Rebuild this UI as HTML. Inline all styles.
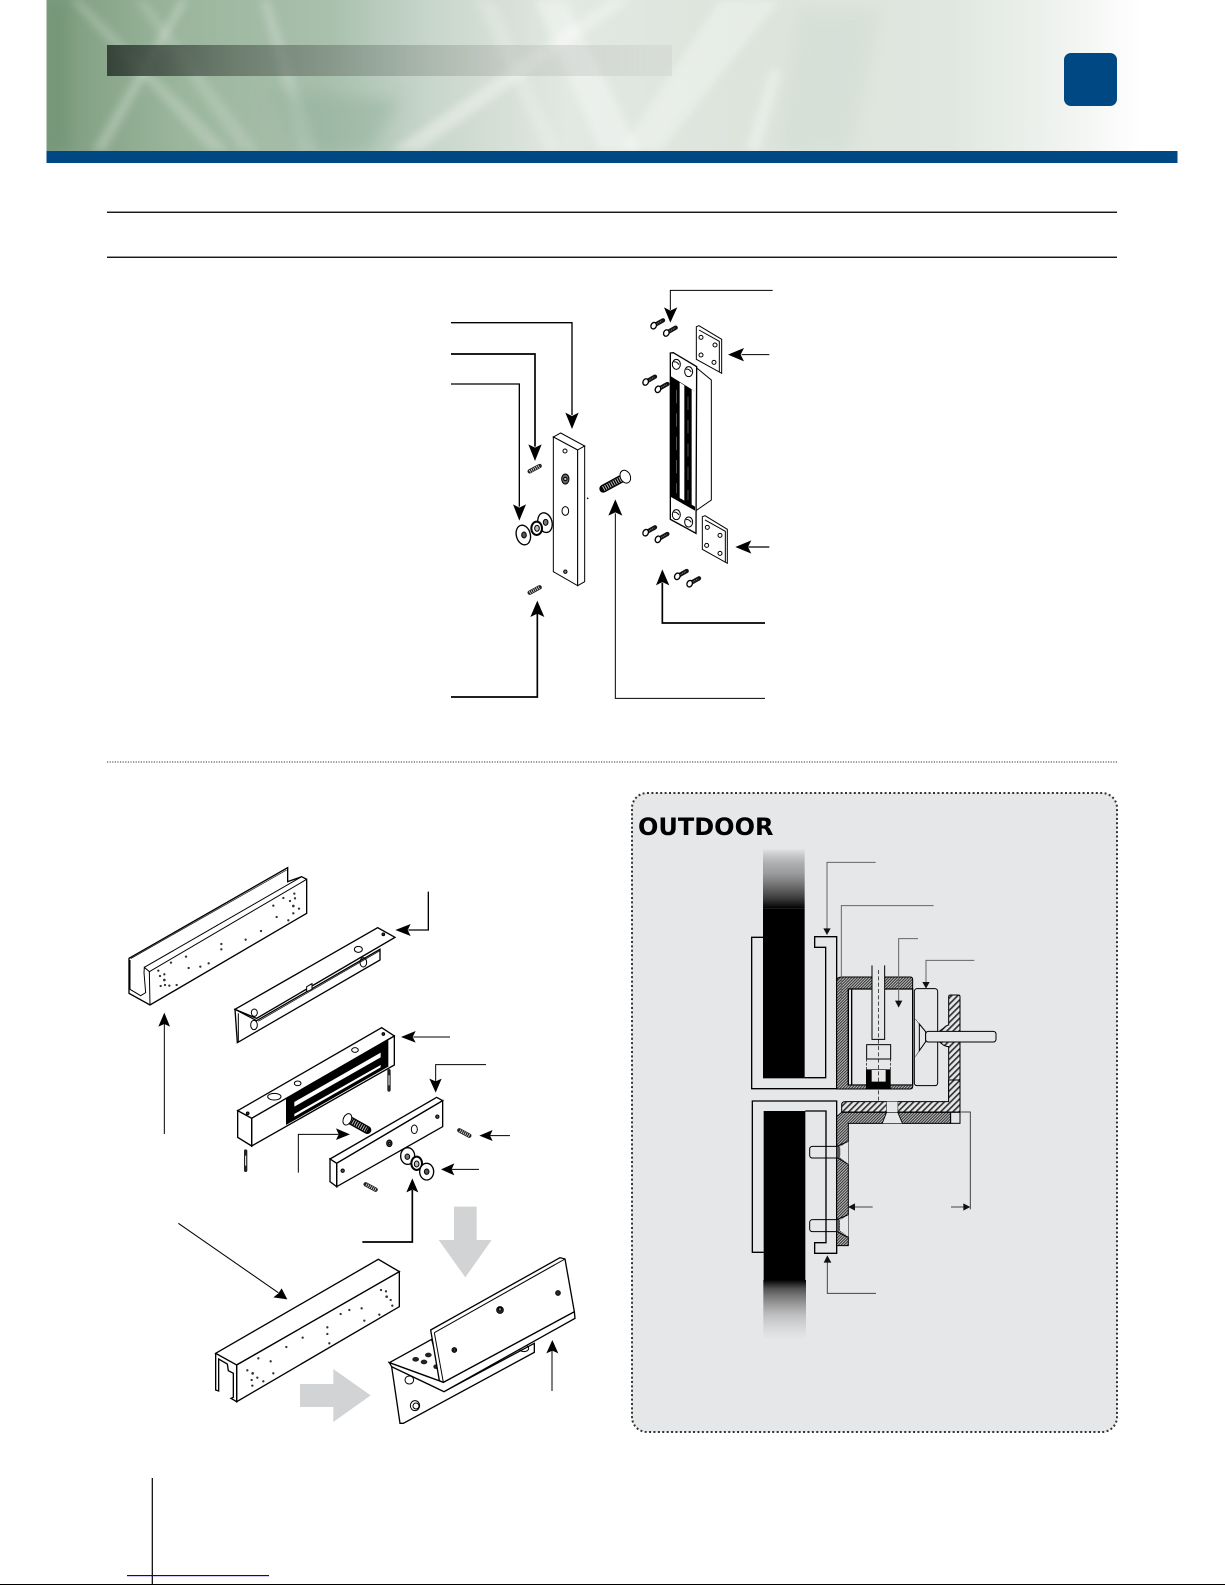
<!DOCTYPE html>
<html><head><meta charset="utf-8"><style>html,body{margin:0;padding:0;background:#fff}svg{display:block}</style></head><body>
<svg xmlns="http://www.w3.org/2000/svg" width="1225" height="1585" viewBox="0 0 1225 1585">
<defs>
<linearGradient id="bn" x1="0" x2="1" y1="0" y2="0">
<stop offset="0" stop-color="#7d9c7f"/><stop offset=".12" stop-color="#9bb69d"/><stop offset=".25" stop-color="#a9c0ad"/><stop offset=".34" stop-color="#c8d6cb"/><stop offset=".46" stop-color="#e2e8e2"/><stop offset=".62" stop-color="#dce4dc"/><stop offset=".8" stop-color="#e0e7e0"/><stop offset=".9" stop-color="#f0f3f0"/><stop offset=".97" stop-color="#fff"/>
</linearGradient>
<linearGradient id="bx" x1="0" x2="1" y1="0" y2="0">
<stop offset="0" stop-color="#2f3a31" stop-opacity=".92"/><stop offset=".2" stop-color="#4a564c" stop-opacity=".65"/><stop offset=".5" stop-color="#7e8a80" stop-opacity=".5"/><stop offset=".75" stop-color="#b5b8b4" stop-opacity=".4"/><stop offset="1" stop-color="#c8c8c6" stop-opacity=".3"/>
</linearGradient>
<linearGradient id="gt" x1="0" x2="0" y1="0" y2="1"><stop offset="0" stop-color="#000" stop-opacity="0"/><stop offset=".4" stop-color="#555" stop-opacity=".5"/><stop offset=".85" stop-color="#222" stop-opacity=".9"/><stop offset="1" stop-color="#000"/></linearGradient>
<linearGradient id="gb" x1="0" x2="0" y1="0" y2="1"><stop offset="0" stop-color="#000"/><stop offset=".15" stop-color="#444" stop-opacity=".9"/><stop offset=".6" stop-color="#888" stop-opacity=".4"/><stop offset="1" stop-color="#aaa" stop-opacity="0"/></linearGradient>
<filter id="bl" x="-20%" y="-20%" width="140%" height="140%"><feGaussianBlur stdDeviation="4"/></filter>
<filter id="bl2" x="-20%" y="-20%" width="140%" height="140%"><feGaussianBlur stdDeviation="8"/></filter>
<clipPath id="bc"><rect x="46.5" y="0" width="1131" height="151"/></clipPath>
<pattern id="hd" width="6" height="6" patternUnits="userSpaceOnUse" patternTransform="rotate(-45)"><rect width="6" height="6" fill="#bbb"/><rect width="6" height="3" fill="#333"/></pattern>
<pattern id="hl" width="13" height="13" patternUnits="userSpaceOnUse" patternTransform="rotate(-45)"><rect width="13" height="13" fill="#e6e7e9"/><rect width="13" height="5" fill="#333"/></pattern>
<g id="screw"><line x1="-6" y1="3" x2="17" y2="-10" stroke="#111" stroke-width="13" stroke-linecap="round"/><line x1="-2" y1="1" x2="15" y2="-9" stroke="#777" stroke-width="4" stroke-dasharray="3 3"/><ellipse cx="-11" cy="6" rx="8" ry="10" transform="rotate(25 -11 6)" fill="#fff" stroke="#000" stroke-width="4"/></g>
<g id="pin"><line x1="-15" y1="8" x2="15" y2="-8" stroke="#222" stroke-width="13" stroke-linecap="round"/><line x1="-15" y1="8" x2="15" y2="-8" stroke="#fff" stroke-width="9" stroke-dasharray="2 4"/></g>
<g id="pn"><line x1="0" y1="0" x2="0" y2="58" stroke="#222" stroke-width="10" stroke-linecap="round"/><line x1="0" y1="14" x2="0" y2="44" stroke="#fff" stroke-width="3"/></g>
</defs>
<rect width="1225" height="1585" fill="#fff"/>
<!-- banner -->
<rect x="46.5" y="0" width="1131" height="151" fill="url(#bn)"/>
<g clip-path="url(#bc)">
<g filter="url(#bl)" fill="#fff">
<polygon points="70,0 80,0 230,151 210,151" opacity=".2"/>
<polygon points="180,0 188,0 105,151 92,151" opacity=".25"/>
<polygon points="135,0 146,0 260,151 240,151" opacity=".15"/>
<polygon points="260,0 270,0 318,151 300,151" opacity=".2"/>
<polygon points="535,0 565,0 640,151 600,151" opacity=".35"/>
<polygon points="610,0 630,0 420,151 390,151" opacity=".35"/>
<polygon points="720,0 780,0 660,151 620,151" opacity=".3"/>
<polygon points="475,0 495,0 560,151 545,151" opacity=".18"/>
<polygon points="770,70 782,70 760,151 745,151" opacity=".3"/>
</g>
<g filter="url(#bl2)">
<polygon points="270,90 400,100 370,151 300,151" fill="#8fb09a" opacity=".45"/>
<polygon points="46,0 70,0 70,151 46,151" fill="#6c8f70" opacity=".5"/>
<polygon points="800,10 880,10 850,151 780,151" fill="#cfdcd2" opacity=".5"/>
</g>
</g>
<rect x="107" y="45" width="565" height="31" fill="url(#bx)"/>
<rect x="46.5" y="151" width="1131" height="12" fill="#004884"/>
<rect x="1064" y="53" width="53" height="53" rx="7" fill="#004884"/>
<!-- rules -->
<rect x="107" y="211.6" width="1010" height="1.3" fill="#000"/>
<rect x="107" y="256.6" width="1010" height="1.3" fill="#000"/>
<line x1="107" y1="762" x2="1117" y2="762" stroke="#333" stroke-width="1" stroke-dasharray="1.2 1.4"/>
<!-- panel -->
<rect x="632" y="793" width="485" height="639" rx="15" fill="#e6e7e9" stroke="#333" stroke-width="2" stroke-dasharray="2 2.4"/>
<text x="638" y="835" font-family="'DejaVu Sans',sans-serif" font-weight="bold" font-size="24" fill="#000">OUTDOOR</text>

<!-- Z2: exploded upper -->
<g transform="translate(440,280) scale(.33333)" fill="none" stroke="#000" stroke-width="3">
<polygon points="340,471 362,459 434,498 413,510" fill="#fff"/>
<polygon points="340,471 413,510 413,917 340,875" fill="#fff"/>
<polygon points="413,510 434,498 434,905 413,917" fill="#fff"/>
<circle cx="375" cy="513" r="6"/><ellipse cx="376" cy="597" rx="11" ry="15" fill="#666"/><circle cx="376" cy="597" r="5" fill="#ccc"/><ellipse cx="376" cy="693" rx="10" ry="13"/><circle cx="376" cy="875" r="5" fill="#888"/>
<circle cx="443" cy="655" r="1" fill="#000"/>
<use href="#pin" x="284" y="566"/><use href="#pin" x="284" y="930"/>
<ellipse cx="315" cy="728" rx="21" ry="30" transform="rotate(-15 315 728)" fill="#fff" stroke-width="4"/><ellipse cx="317" cy="727" rx="7" ry="9" fill="#777"/>
<ellipse cx="290" cy="745" rx="16" ry="20" fill="#fff" stroke-width="6"/><ellipse cx="291" cy="745" rx="7" ry="9" fill="#bbb"/>
<ellipse cx="250" cy="765" rx="21" ry="30" transform="rotate(-15 250 765)" fill="#fff" stroke-width="4"/><ellipse cx="252" cy="765" rx="7" ry="9" fill="#555"/>
<line x1="490" y1="626" x2="545" y2="596" stroke="#000" stroke-width="24" stroke-linecap="round"/>
<line x1="490" y1="626" x2="545" y2="596" stroke="#bbb" stroke-width="16" stroke-dasharray="3 4"/>
<ellipse cx="556" cy="590" rx="15" ry="20" transform="rotate(-25 556 590)" fill="#fff"/>
<!-- magnet -->
<polygon points="768,262 814,300 814,660 768,692" fill="#fff"/>
<polygon points="691,219 700,218 770,260 768,760 691,718" fill="#fff" stroke-width="4"/>
<polygon points="691,288 765,334 765,692 691,650" fill="#000" stroke="none"/>
<polygon points="719,307 733,316 733,662 719,654" fill="#fff" stroke="none"/>
<polygon points="755,328 765,334 765,680 755,674" fill="#fff" stroke="none"/>
<line x1="710" y1="330" x2="710" y2="640" stroke="#777" stroke-width="2" stroke-dasharray="40 30"/><line x1="744" y1="350" x2="744" y2="660" stroke="#777" stroke-width="2" stroke-dasharray="40 30"/>
<ellipse cx="709" cy="253" rx="12" ry="15"/><path d="M701,246 q8,-3 16,8"/><ellipse cx="746" cy="275" rx="12" ry="15"/><path d="M738,268 q8,-3 16,8"/>
<ellipse cx="709" cy="704" rx="12" ry="15"/><path d="M701,697 q8,-3 16,8"/><ellipse cx="746" cy="726" rx="12" ry="15"/><path d="M738,719 q8,-3 16,8"/>
<!-- plates -->
<polygon points="769,140 777,137 845,178 845,280 769,238" fill="#fff"/><polyline points="777,150 838,184 838,276"/>
<circle cx="783" cy="172" r="6"/><circle cx="825" cy="195" r="6"/><circle cx="783" cy="225" r="6"/><circle cx="822" cy="247" r="6"/>
<polygon points="787,710 795,707 862,748 862,850 787,808" fill="#fff"/><polyline points="795,720 856,754 856,846"/>
<circle cx="802" cy="742" r="6"/><circle cx="840" cy="766" r="6"/><circle cx="800" cy="796" r="6"/><circle cx="840" cy="820" r="6"/>
<!-- screws -->
<use href="#screw" x="652" y="131"/><use href="#screw" x="690" y="153"/><use href="#screw" x="628" y="300"/><use href="#screw" x="665" y="322"/><use href="#screw" x="628" y="752"/><use href="#screw" x="665" y="772"/><use href="#screw" x="723" y="883"/><use href="#screw" x="760" y="905"/>
<!-- leaders -->
<polyline points="33,128 396,128 396,405" stroke-width="4"/><polygon points="396,447 376,398 396,408 416,398" fill="#000" stroke="none"/>
<polyline points="33,222 285,222 285,500" stroke-width="5"/><polygon points="285,543 265,493 285,503 305,493" fill="#000" stroke="none"/>
<polyline points="33,312 238,312 238,680" stroke-width="4"/><polygon points="238,722 219,673 238,683 258,673" fill="#000" stroke="none"/>
<polyline points="33,1251 292,1251 292,1000" stroke-width="5"/><polygon points="292,962 271,1011 292,1001 313,1011" fill="#000" stroke="none"/>
<polyline points="975,1255 526,1255 526,700" stroke-width="3"/><polygon points="526,658 505,707 526,697 547,707" fill="#000" stroke="none"/>
<polyline points="975,1029 667,1029 667,908" stroke-width="5"/><polygon points="667,868 648,916 667,906 688,916" fill="#000" stroke="none"/>
<polyline points="998,31 691,31 691,90" stroke-width="3"/><polygon points="691,128 672,82 691,92 712,82" fill="#000" stroke="none"/>
<line x1="988" y1="224" x2="905" y2="224"/><polygon points="864,224 912,204 902,224 912,244" fill="#000" stroke="none"/>
<line x1="988" y1="801" x2="925" y2="801" stroke-width="4"/><polygon points="886,801 934,781 924,801 934,821" fill="#000" stroke="none"/>
</g>

<!-- Z3: lower-left exploded -->
<g transform="translate(110,850) scale(.33333)" fill="none" stroke="#000" stroke-width="3">
<polygon points="57,325 533,53 533,95 575,80 590,88 590,190 120,465 57,430" fill="#fff" stroke-width="4"/>
<line x1="62" y1="326" x2="530" y2="60" stroke-width="2"/>
<polyline points="118,365 590,88"/><line x1="103" y1="352" x2="575" y2="80"/><line x1="118" y1="365" x2="120" y2="465"/>
<polyline points="60,330 60,418 92,437 107,428 102,368 103,352 118,365"/>
<g fill="#333" stroke="none">
<circle cx="145" cy="362" r="3.5"/><circle cx="150" cy="378" r="3.5"/><circle cx="163" cy="373" r="3.5"/><circle cx="163" cy="390" r="4"/><circle cx="152" cy="408" r="3.5"/><circle cx="165" cy="405" r="3.5"/><circle cx="178" cy="407" r="3.5"/><circle cx="200" cy="405" r="3.5"/><circle cx="183" cy="338" r="3.5"/><circle cx="228" cy="320" r="3.5"/><circle cx="236" cy="354" r="3.5"/><circle cx="271" cy="350" r="3.5"/><circle cx="296" cy="340" r="3.5"/><circle cx="334" cy="282" r="3.5"/><circle cx="334" cy="298" r="3.5"/><circle cx="407" cy="269" r="3.5"/><circle cx="453" cy="243" r="3.5"/><circle cx="490" cy="167" r="3.5"/><circle cx="500" cy="201" r="3.5"/><circle cx="520" cy="144" r="3.5"/><circle cx="535" cy="211" r="3.5"/><circle cx="540" cy="153" r="3.5"/><circle cx="550" cy="168" r="4"/><circle cx="550" cy="190" r="3.5"/><circle cx="553" cy="131" r="3.5"/><circle cx="555" cy="145" r="3.5"/><circle cx="567" cy="176" r="3.5"/>
</g>
<polygon points="375,478 382,578 810,330 810,298 440,512" fill="#fff" stroke-width="4"/>
<polygon points="375,478 803,233 855,262 440,505" fill="#fff" stroke-width="4"/>
<line x1="385" y1="490" x2="385" y2="575"/>
<line x1="445" y1="514" x2="810" y2="302" stroke-width="2"/>
<ellipse cx="433" cy="488" rx="9" ry="11"/><ellipse cx="432" cy="525" rx="10" ry="14"/><ellipse cx="745" cy="298" rx="12" ry="9"/><ellipse cx="760" cy="337" rx="10" ry="14"/><circle cx="820" cy="253" r="4" fill="#333"/><polygon points="590,410 606,401 606,418 590,425" fill="#fff"/>
<!-- magnet -->
<polygon points="383,782 815,533 853,558 425,805" fill="#fff" stroke-width="4"/>
<polygon points="425,805 853,558 853,645 425,888" fill="#fff" stroke-width="4"/>
<polygon points="383,782 425,805 425,888 383,862" fill="#fff" stroke-width="4"/>
<polygon points="528,745 835,570 835,650 528,825" fill="#000" stroke="none"/>
<polygon points="553,756 812,608 812,622 553,770" fill="#fff" stroke="none"/><polygon points="553,792 812,645 812,652 553,800" fill="#fff" stroke="none"/>
<ellipse cx="493" cy="740" rx="20" ry="10"/><ellipse cx="563" cy="700" rx="10" ry="7"/><ellipse cx="735" cy="600" rx="10" ry="7"/><circle cx="820" cy="552" r="4" fill="#333"/><circle cx="413" cy="790" r="4" fill="#333"/>
<use href="#pn" x="837" y="662"/><use href="#pn" x="407" y="903"/>
<!-- plate -->
<polygon points="660,927 980,742 998,752 680,940" fill="#fff" stroke-width="4"/>
<polygon points="680,940 998,752 998,830 680,1010" fill="#fff" stroke-width="4"/>
<polygon points="660,927 680,940 680,1010 660,995" fill="#fff" stroke-width="4"/>
<circle cx="698" cy="962" r="5" fill="#555"/><ellipse cx="838" cy="880" rx="8" ry="10" fill="#444"/><circle cx="838" cy="880" r="3" fill="#ccc"/><ellipse cx="913" cy="838" rx="9" ry="13"/><circle cx="982" cy="800" r="5" fill="#555"/>
<!-- bolt -->
<line x1="722" y1="812" x2="772" y2="840" stroke="#000" stroke-width="24" stroke-linecap="round"/><line x1="722" y1="812" x2="772" y2="840" stroke="#bbb" stroke-width="16" stroke-dasharray="3 4"/>
<ellipse cx="712" cy="808" rx="12" ry="18" transform="rotate(25 712 808)" fill="#fff"/>
<g transform="translate(1063,849) scale(-1,1)"><use href="#pin"/></g><g transform="translate(782,1011) scale(-1,1)"><use href="#pin"/></g>
<ellipse cx="893" cy="918" rx="21" ry="25" fill="#fff" stroke-width="4"/><ellipse cx="892" cy="920" rx="7" ry="8" fill="#777"/>
<ellipse cx="920" cy="940" rx="16" ry="20" fill="#fff" stroke-width="6"/><ellipse cx="920" cy="942" rx="7" ry="9" fill="#bbb"/>
<ellipse cx="950" cy="965" rx="21" ry="25" fill="#fff" stroke-width="4"/><ellipse cx="950" cy="965" rx="7" ry="8" fill="#555"/>
<!-- leaders -->
<polyline points="955,125 955,240 895,240" stroke-width="4"/><polygon points="856,240 902,222 893,240 902,258" fill="#000" stroke="none"/>
<line x1="1020" y1="561" x2="910" y2="561"/><polygon points="873,561 917,543 908,561 917,578" fill="#000" stroke="none"/>
<polyline points="1128,644 977,644 977,695"/><polygon points="977,728 958,686 977,694 995,686" fill="#000" stroke="none"/>
<line x1="1200" y1="857" x2="1140" y2="857"/><polygon points="1108,857 1148,840 1140,857 1148,873" fill="#000" stroke="none"/>
<line x1="1107" y1="958" x2="1025" y2="958"/><polygon points="993,958 1033,940 1025,958 1033,976" fill="#000" stroke="none"/>
<line x1="907" y1="1085" x2="907" y2="1020" stroke-width="3"/><polygon points="907,985 889,1027 907,1019 925,1027" fill="#000" stroke="none"/>
<polyline points="565,968 565,853 685,853"/><polygon points="720,853 678,835 686,853 678,870" fill="#000" stroke="none"/>
<line x1="163" y1="852" x2="163" y2="520" stroke-width="3"/><polygon points="163,488 145,530 163,522 180,530" fill="#000" stroke="none"/>
</g>

<!-- Z4 -->
<g transform="translate(170,1190) scale(.33333)" fill="none" stroke="#000" stroke-width="3">
<polyline points="727,0 727,156 577,156" stroke-width="5"/>
<polygon points="852,50 920,50 920,150 965,150 886,262 806,150 852,150" fill="#d1d3d4" stroke="none"/>
<polygon points="390,582 490,582 490,537 602,616 490,696 490,651 390,651" fill="#d1d3d4" stroke="none"/>
<line x1="25" y1="100" x2="325" y2="308"/><polygon points="352,328 310,322 325,310 335,295" fill="#000" stroke="none"/>
<polygon points="137,490 625,208 688,245 200,525" fill="#fff" stroke-width="4"/>
<polygon points="200,525 688,245 688,350 200,635" fill="#fff" stroke-width="4"/>
<polyline points="137,490 137,600 146,603 146,507 172,522 175,542 190,550 190,622 183,625 200,635 200,525" stroke-width="4"/>
<g fill="#333" stroke="none"><circle cx="232" cy="541" r="3.5"/><circle cx="248" cy="550" r="4"/><circle cx="245" cy="570" r="3.5"/><circle cx="247" cy="587" r="3.5"/><circle cx="262" cy="563" r="3.5"/><circle cx="280" cy="574" r="3.5"/><circle cx="265" cy="505" r="3.5"/><circle cx="302" cy="514" r="3.5"/><circle cx="310" cy="550" r="3.5"/><circle cx="349" cy="471" r="3.5"/><circle cx="398" cy="443" r="3.5"/><circle cx="472" cy="412" r="3.5"/><circle cx="472" cy="432" r="3.5"/><circle cx="478" cy="460" r="3.5"/><circle cx="512" cy="372" r="3.5"/><circle cx="538" cy="360" r="3.5"/><circle cx="575" cy="355" r="3.5"/><circle cx="583" cy="392" r="3.5"/><circle cx="628" cy="374" r="3.5"/><circle cx="633" cy="300" r="3.5"/><circle cx="648" cy="304" r="3.5"/><circle cx="650" cy="320" r="4"/><circle cx="662" cy="330" r="3.5"/><circle cx="667" cy="347" r="3.5"/></g>
<!-- bracket -->
<polygon points="665,530 690,700 700,700 1093,487 1093,460 822,605" fill="#fff" stroke-width="4"/>
<polygon points="658,518 785,448 820,577" fill="#fff" stroke-width="4"/>
<ellipse cx="737" cy="508" rx="10" ry="7" fill="#222" stroke="none"/><ellipse cx="775" cy="495" rx="10" ry="7" fill="#222" stroke="none"/><ellipse cx="762" cy="516" rx="10" ry="7" fill="#222" stroke="none"/><ellipse cx="798" cy="530" rx="8" ry="7" fill="#222" stroke="none"/>
<ellipse cx="735" cy="647" rx="14" ry="15"/><circle cx="738" cy="648" r="9"/><ellipse cx="718" cy="570" rx="13" ry="12"/><ellipse cx="1062" cy="475" rx="14" ry="10"/>
<polygon points="658,518 820,577 1213,365 1215,385 822,605 665,530" fill="#fff" stroke-width="4"/>
<polygon points="782,420 1170,203 1185,207 1213,365 820,577 808,572" fill="#fff" stroke-width="4"/>
<line x1="793" y1="428" x2="1185" y2="207"/><line x1="793" y1="428" x2="820" y2="577"/>
<circle cx="853" cy="480" r="7" fill="#444"/><circle cx="853" cy="480" r="3" fill="#ccc"/><circle cx="990" cy="360" r="10" fill="#333"/><circle cx="990" cy="358" r="5" fill="#888"/><circle cx="1164" cy="309" r="7" fill="#555"/><circle cx="1164" cy="309" r="3" fill="#ddd"/>
<line x1="1146" y1="603" x2="1146" y2="480" stroke-width="3"/><polygon points="1147,450 1129,490 1147,482 1165,490" fill="#000" stroke="none"/>
</g>

<!-- Z5 section upper -->
<g transform="translate(720,840) scale(.33333)" fill="none" stroke="#000" stroke-width="4">
<rect x="129" y="25" width="125" height="180" fill="url(#gt)" stroke="none"/>
<rect x="129" y="205" width="125" height="510" fill="#000" stroke="none"/>
<path d="M129,292 H95 V746 H350 V290 H284 V322 H317 V713 H254"/>
<path d="M350,425 Q350,411 365,411 H570 Q578,411 578,418 V447 H385 V735 H578 V740 Q578,747 570,747 H350 Z" fill="url(#hd)" stroke-width="3"/>
<rect x="385" y="447" width="193" height="290" fill="#e6e7e9" stroke="none"/>
<path d="M385,447 H578 V735 H385 Z M395,447 V735"/>
<rect x="456" y="376" width="38" height="225" fill="#e6e7e9" stroke="none"/>
<path d="M456,376 V598 H494 V376" stroke-width="3"/>
<rect x="440" y="614" width="72" height="43" fill="#e6e7e9" stroke-width="3"/>
<path d="M440,657 V688 M512,657 V688" stroke-dasharray="8 4" stroke-width="2"/>
<path d="M438,688 H512 V748 H438 Z M455,690 V725 H497 V690 Z" fill="#000" fill-rule="evenodd" stroke="none"/>
<line x1="476" y1="390" x2="476" y2="785" stroke-dasharray="12 7" stroke-width="2"/>
<rect x="583" y="446" width="70" height="291" rx="8" stroke-width="3"/>
<path d="M686,555 V470 Q686,465 692,465 H715 Q720,465 720,470 V790 H686 V620 Q680,620 670,615 L657,605 V575 L670,565 Q680,555 686,555 Z" fill="url(#hl)" stroke-width="3"/>
<polygon points="598,552 617,575 617,605 598,632" fill="#e6e7e9" stroke-width="3"/>
<path d="M586,537 L598,552 M598,632 L586,650" stroke-width="1.5"/>
<rect x="617" y="574" width="211" height="32" rx="8" fill="#e6e7e9" stroke-width="3"/>
<g stroke="#666" stroke-width="3">
<polyline points="467,67 321,67 321,268"/><polyline points="641,197 364,197 364,480"/><polyline points="594,296 536,296 536,485"/><polyline points="763,361 618,361 618,428"/>
</g>
<g fill="#111" stroke="none"><polygon points="310,265 332,265 321,285"/><polygon points="525,482 547,482 536,503"/><polygon points="607,426 629,426 618,446"/></g>
</g>

<!-- Z6 section lower -->
<g transform="translate(720,1080) scale(.33333)" fill="none" stroke="#000" stroke-width="4">
<rect x="131" y="93" width="125" height="507" fill="#000" stroke="none"/>
<rect x="130" y="600" width="128" height="180" fill="url(#gb)" stroke="none"/>
<path d="M131,517 H97 V63 H350 V520 H284 V488 H318 V93 H256"/>
<path d="M365,75 Q365,65 375,65 H686 V0 H720 V96 H533 V65 H500 V96 H365 Z" fill="url(#hl)" stroke-width="3"/>
<rect x="500" y="65" width="33" height="32" fill="#e6e7e9" stroke="none"/>
<path d="M350,110 L365,97 H500 L487,130 H385 V497 H350 Z" fill="url(#hd)" stroke-width="3"/>
<path d="M533,97 H692 V130 H547 Z" fill="url(#hd)" stroke-width="3"/>
<polygon points="500,97 533,97 547,130 487,130" fill="#e6e7e9" stroke-width="2"/>
<rect x="692" y="97" width="28" height="33" fill="#e6e7e9" stroke-width="3"/>
<polygon points="360,200 385,185 385,252 360,232" fill="#e6e7e9" stroke="none"/><polygon points="360,420 385,405 385,470 360,452" fill="#e6e7e9" stroke="none"/>
<path d="M352,198 L383,185 M352,233 L383,252 M352,418 L383,405 M352,455 L383,472" stroke-width="3"/>
<rect x="269" y="199" width="90" height="35" rx="8" stroke-width="3"/><rect x="350" y="200" width="10" height="33" fill="#555" stroke="none"/>
<rect x="269" y="419" width="88" height="36" rx="8" stroke-width="3"/><rect x="350" y="420" width="8" height="34" fill="#555" stroke="none"/>
<g stroke="#444" stroke-width="3"><polyline points="720,96 751,96 751,388"/><line x1="458" y1="381" x2="400" y2="381"/><line x1="693" y1="381" x2="735" y2="381"/><polyline points="468,640 322,640 322,545"/></g>
<g fill="#111" stroke="none"><polygon points="384,381 405,370 405,392"/><polygon points="751,381 730,370 730,392"/><polygon points="322,526 311,548 334,548"/></g>
</g>

<!-- bottom lines -->
<rect x="151.7" y="1478" width="1.2" height="107" fill="#000"/>
<rect x="127" y="1575" width="142" height="1.2" fill="#0000c8"/>
<rect x="0" y="1584" width="1225" height="1" fill="#000"/>
</svg>
</body></html>
